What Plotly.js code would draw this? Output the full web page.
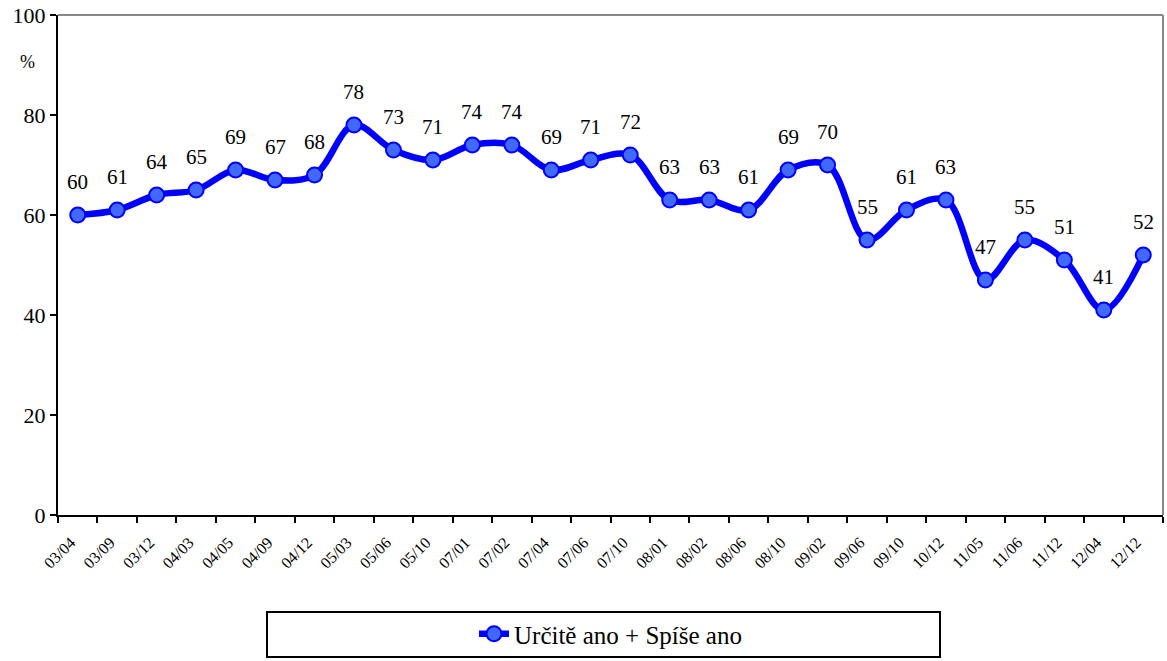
<!DOCTYPE html>
<html>
<head>
<meta charset="utf-8">
<script src="https://cdn.plot.ly/plotly-3.0.1.min.js"></script>
<style>html,body{margin:0;padding:0;background:#fff;}#chart{width:1167px;height:661px;}</style>
</head>
<body>
<div id="chart"></div>
<script>
const categories = ["03/04","03/09","03/12","04/03","04/05","04/09","04/12","05/03","05/06","05/10","07/01","07/02","07/04","07/06","07/10","08/01","08/02","08/06","08/10","09/02","09/06","09/10","10/12","11/05","11/06","11/12","12/04","12/12"];
const values = [60,61,64,65,69,67,68,78,73,71,74,74,69,71,72,63,63,61,69,70,55,61,63,47,55,51,41,52];
const seriesName = "Určitě ano + Spíše ano";
const yTicks = [0,20,40,60,80,100];

const fontFam = "Liberation Serif";

const trace = {
  type: "scatter",
  mode: "lines+markers",
  x: categories,
  y: values,
  name: seriesName,
  line: {color: "#0000FF", width: 6.5, shape: "spline", smoothing: 1},
  marker: {symbol: "circle", size: 15, color: "#4169FF", line: {color: "#0000FF", width: 2}},
  cliponaxis: false,
  hoverinfo: "x+y"
};

const labelAnnotations = categories.map((c, i) => ({
  x: c, y: values[i], xref: "x", yref: "y",
  text: String(values[i]), showarrow: false,
  xanchor: "center", yanchor: "middle", yshift: 33,
  font: {family: fontFam, size: 21, color: "#000"}
}));

const layout = {
  width: 1167, height: 661,
  margin: {l: 58, r: 4, t: 15, b: 146},
  paper_bgcolor: "#fff", plot_bgcolor: "#fff",
  font: {family: fontFam, size: 18, color: "#000"},
  showlegend: true,
  legend: {
    orientation: "h", x: 0.5, xanchor: "center", y: -0.238, yanchor: "middle",
    font: {family: fontFam, size: 25, color: "#000"},
    bgcolor: "rgba(0,0,0,0)", borderwidth: 0
  },
  xaxis: {
    type: "category",
    tickson: "boundaries",
    ticks: "outside", ticklen: 6, tickwidth: 2, tickcolor: "#000",
    showline: true, linecolor: "#000", linewidth: 2,
    showgrid: false, zeroline: false,
    tickangle: -45,
    ticklabelstandoff: 10,
    ticklabelshift: -7,
    tickfont: {family: fontFam, size: 16, color: "#000"},
    range: [-0.5, categories.length - 0.5]
  },
  yaxis: {
    range: [0, 100],
    tickvals: yTicks,
    ticks: "outside", ticklen: 6, tickwidth: 2, tickcolor: "#000",
    showline: true, linecolor: "#000", linewidth: 2,
    showgrid: false, zeroline: false,
    tickfont: {family: fontFam, size: 22, color: "#000"}
  },
  shapes: [
    {type: "line", xref: "paper", yref: "paper", x0: 0, x1: 1, y0: 1, y1: 1, line: {color: "#888", width: 2}},
    {type: "line", xref: "paper", yref: "paper", x0: 1, x1: 1, y0: 0, y1: 1, line: {color: "#888", width: 2}},
    {type: "rect", xref: "paper", yref: "paper", x0: (267-58)/1105, x1: (940-58)/1105, y0: -(612-515)/500, y1: -(657-515)/500, line: {color: "#000", width: 2}}
  ],
  annotations: labelAnnotations.concat([
    {text: "%", xref: "paper", yref: "paper", x: -0.028, y: 0.906, xanchor: "center", yanchor: "middle", showarrow: false, font: {family: fontFam, size: 18, color: "#000"}}
  ])
};

Plotly.newPlot("chart", [trace], layout, {displayModeBar: false, staticPlot: true});
</script>
</body>
</html>
